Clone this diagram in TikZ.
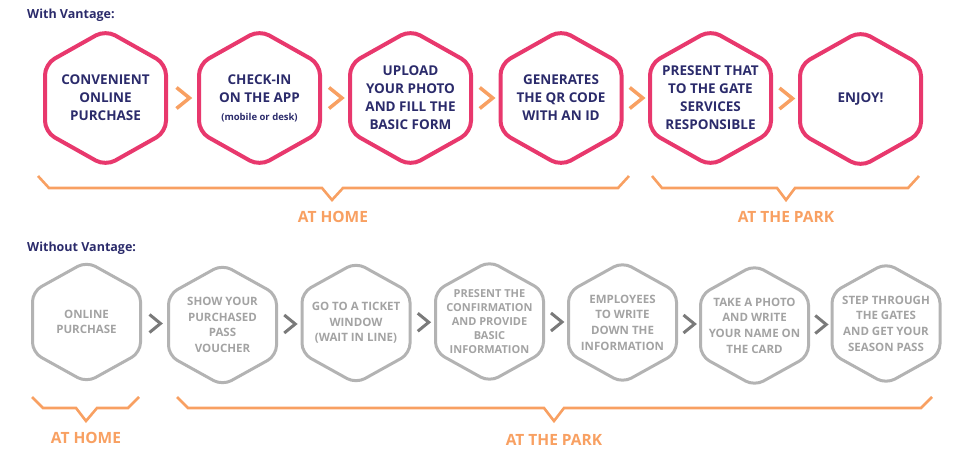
\documentclass[tikz,border=0pt]{standalone}
\usepackage{fontspec}
\setmainfont{Open Sans}
\usetikzlibrary{calc}
\definecolor{pinkc}{HTML}{E8386D}
\definecolor{orangec}{HTML}{F8A062}
\definecolor{navyc}{HTML}{2B2B6B}
\definecolor{hexgray}{HTML}{B3B3B3}
\definecolor{txtgray}{HTML}{A3A3A3}
\definecolor{chevgray}{HTML}{7A7A7A}
\begin{document}
\begin{tikzpicture}[x=1pt,y=-1pt,
  toptxt/.style={align=center,inner sep=0pt,text=navyc,font=\bfseries\fontsize{13.5}{18}\selectfont},
  bottxt/.style={align=center,inner sep=0pt,text=txtgray,font=\bfseries\fontsize{11.5}{15.6}\selectfont},
  titletxt/.style={anchor=west,inner sep=0pt,text=navyc,font=\bfseries\fontsize{12.5}{15}\selectfont},
  bracetxt/.style={inner sep=0pt,text=orangec,font=\bfseries\fontsize{15.5}{18}\selectfont},
  pinkhex/.style={draw=pinkc,line width=4pt,rounded corners=11pt},
  grayhexa/.style={draw=hexgray,line width=3pt,rounded corners=10pt},
  chevo/.style={draw=orangec,line width=3.5pt},
  chevg/.style={draw=chevgray,line width=3pt},
  bracel/.style={draw=orangec,line width=2.6pt}
]
\useasboundingbox (0,0) rectangle (959,449);

% titles
\node[titletxt] (with) at (27,15) {With Vantage:};
\node[titletxt] (without) at (27,248) {Without Vantage:};

% top row
\node[toptxt] (t1) at (105.5,98) {CONVENIENT\\ONLINE\\PURCHASE};
\node[toptxt] (t2) at (259.5,98) {CHECK-IN\\ON THE APP\\{\fontsize{9.5}{12}\selectfont (mobile or desk)}};
\node[toptxt] (t3) at (410.5,98) {UPLOAD\\YOUR PHOTO\\AND FILL THE\\BASIC FORM};
\node[toptxt] (t4) at (561,98) {GENERATES\\THE QR CODE\\WITH AN ID};
\node[toptxt] (t5) at (710.5,98) {PRESENT THAT\\TO THE GATE\\SERVICES\\RESPONSIBLE};
\node[toptxt] (t6) at (860.5,99) {ENJOY!};
\foreach \n in {t1,t2,t3,t4,t5,t6}
  \draw[pinkhex,shift={(\n.center)}] (0,-68) -- (60.5,-34) -- (60.5,34) -- (0,68) -- (-60.5,34) -- (-60.5,-34) -- cycle;
\foreach \a/\b in {t1/t2,t2/t3,t3/t4,t4/t5,t5/t6}
  \draw[chevo] ($(\a.center)!0.5!(\b.center)+(-6,-10.5)$) -- ++(13,10.5) -- ++(-13,10.5);

% bottom row
\node[bottxt] (b1) at (86.5,322) {ONLINE\\PURCHASE};
\node[bottxt] (b2) at (222.5,325) {SHOW YOUR\\PURCHASED\\PASS\\VOUCHER};
\node[bottxt] (b3) at (356,323) {GO TO A TICKET\\WINDOW\\(WAIT IN LINE)};
\node[bottxt,font=\bfseries\fontsize{11}{14.2}\selectfont] (b4) at (489.5,321.5) {PRESENT THE\\CONFIRMATION\\AND PROVIDE\\BASIC\\INFORMATION};
\node[bottxt] (b5) at (622.5,322.5) {EMPLOYEES\\TO WRITE\\DOWN THE\\INFORMATION};
\node[bottxt] (b6) at (754.5,325.5) {TAKE A PHOTO\\AND WRITE\\YOUR NAME ON\\THE CARD};
\node[bottxt] (b7) at (886,323.5) {STEP THROUGH\\THE GATES\\AND GET YOUR\\SEASON PASS};
\foreach \n in {b1,b2,b3,b4,b5,b6,b7}
  \draw[grayhexa,shift={(\n.center)}] (0,-60.5) -- (54,-30.5) -- (54,30.5) -- (0,60.5) -- (-54,30.5) -- (-54,-30.5) -- cycle;
\foreach \a/\b in {b1/b2,b2/b3,b3/b4,b4/b5,b5/b6,b6/b7}
  \draw[chevg] ($(\a.center)!0.5!(\b.center)+(-5,-9)$) -- ++(11,9) -- ++(-11,9);

% braces and labels
\node[bracetxt] (home1) at (333,217) {AT HOME};
\node[bracetxt] (park1) at (786,217) {AT THE PARK};
\node[bracetxt] (home2) at (86,438) {AT HOME};
\node[bracetxt] (park2) at (554,440) {AT THE PARK};
\draw[bracel] (38,176) -- (49,188) -- (322,188) -- (332,200) -- (343,188) -- (618,188) -- (629,176);
\draw[bracel] (652,176) -- (662,188) -- (777,188) -- (786,200) -- (795,188) -- (908,188) -- (919,176);
\draw[bracel] (32,397) -- (43,408) -- (76,408) -- (86,421) -- (97,408) -- (128,408) -- (139,397);
\draw[bracel] (177,397) -- (188,408) -- (544,408) -- (554,421) -- (564,408) -- (921,408) -- (932,397);
\end{tikzpicture}
\end{document}
